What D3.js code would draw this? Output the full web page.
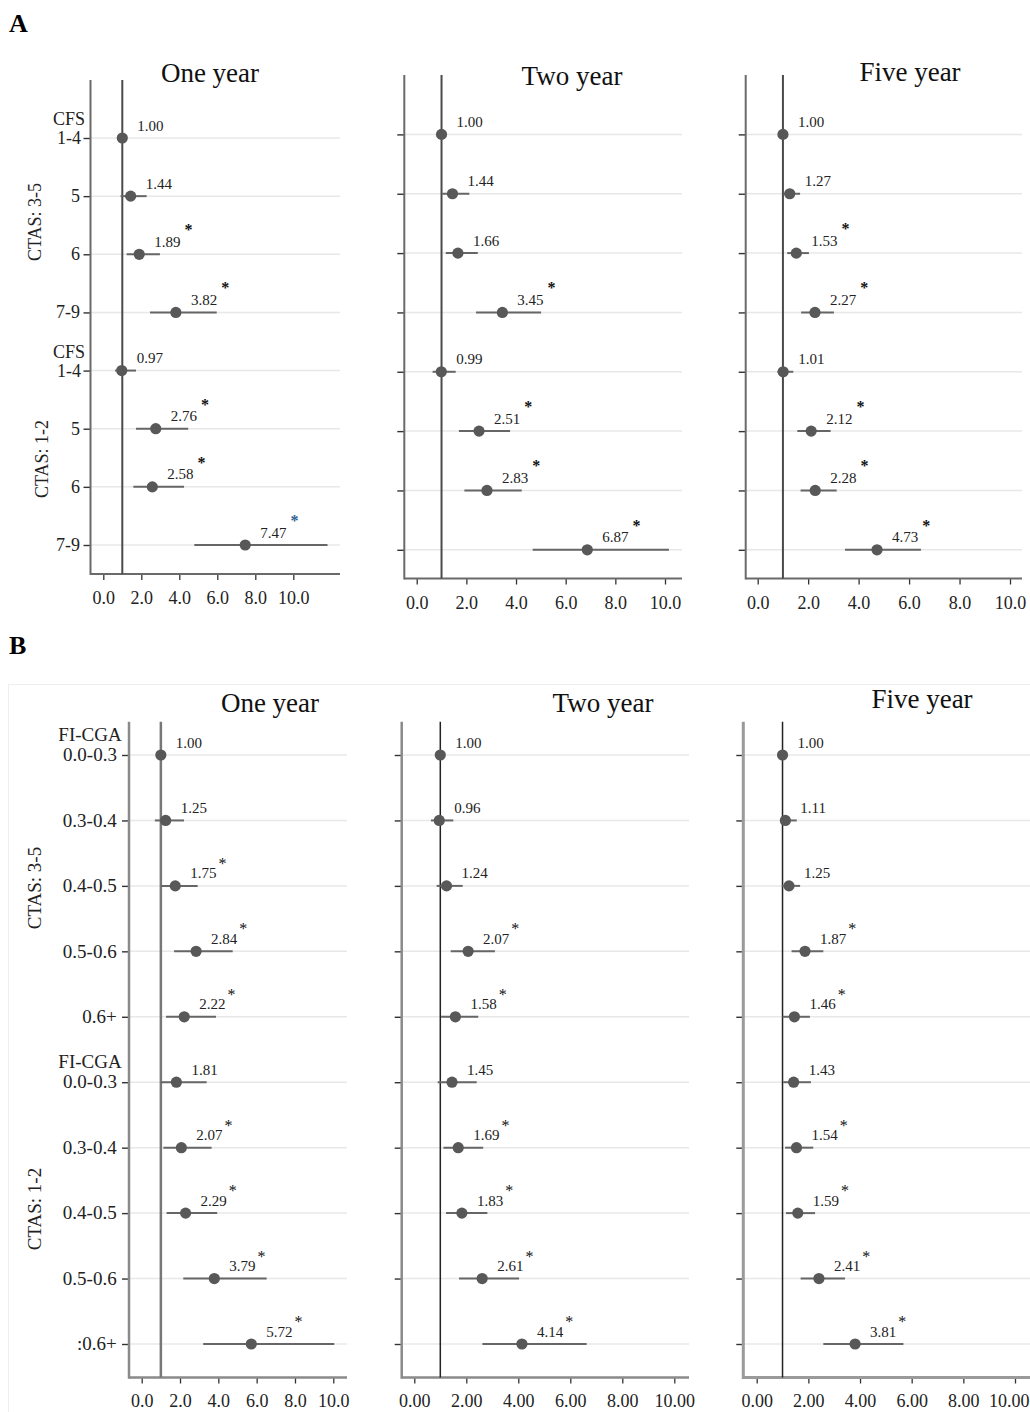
<!DOCTYPE html>
<html><head><meta charset="utf-8">
<script src="https://cdn.jsdelivr.net/npm/d3@7"></script>
<style>
body{margin:0;background:#fff}
svg{display:block}
text{font-family:"Liberation Serif","Times New Roman",serif}
</style>
</head><body>
<svg id="chart" width="1030" height="1412"></svg>
<script>
// ---------------- DATA ----------------
const yearTitles = ["One year", "Two year", "Five year"];
const groupLabels = ["CTAS: 3-5", "CTAS: 1-2"];
const xTickValues = [0, 2, 4, 6, 8, 10];

// Panel A : CFS
const cfsCategories = ["CFS|1-4", "5", "6", "7-9", "CFS|1-4", "5", "6", "7-9"];
const cfsOneYearOR   = [1.00, 1.44, 1.89, 3.82, 0.97, 2.76, 2.58, 7.47];
const cfsOneYearLow  = [1.00, 0.91, 1.23, 2.46, 0.62, 1.72, 1.58, 4.79];
const cfsOneYearHigh = [1.00, 2.28, 2.98, 5.97, 1.72, 4.47, 4.25, 11.80];
const cfsOneYearSig  = [0, 0, 1, 1, 0, 1, 1, 1];

const cfsTwoYearOR   = [1.00, 1.44, 1.66, 3.45, 0.99, 2.51, 2.83, 6.87];
const cfsTwoYearLow  = [1.00, 1.03, 1.17, 2.39, 0.64, 1.70, 1.92, 4.67];
const cfsTwoYearHigh = [1.00, 2.12, 2.46, 5.01, 1.57, 3.76, 4.23, 10.16];
const cfsTwoYearSig  = [0, 0, 0, 1, 0, 1, 1, 1];

const cfsFiveYearOR   = [1.00, 1.27, 1.53, 2.27, 1.01, 2.12, 2.28, 4.73];
const cfsFiveYearLow  = [1.00, 1.04, 1.17, 1.72, 0.78, 1.57, 1.70, 3.46];
const cfsFiveYearHigh = [1.00, 1.68, 2.03, 3.02, 1.41, 2.89, 3.13, 6.47];
const cfsFiveYearSig  = [0, 0, 1, 1, 0, 1, 1, 1];

// Panel B : FI-CGA
const fiCategories = ["FI-CGA|0.0-0.3", "0.3-0.4", "0.4-0.5", "0.5-0.6", "0.6+",
                      "FI-CGA|0.0-0.3", "0.3-0.4", "0.4-0.5", "0.5-0.6", ":0.6+"];
const fiOneYearOR   = [1.00, 1.25, 1.75, 2.84, 2.22, 1.81, 2.07, 2.29, 3.79, 5.72];
const fiOneYearLow  = [1.00, 0.69, 1.00, 1.69, 1.27, 1.00, 1.13, 1.30, 2.17, 3.21];
const fiOneYearHigh = [1.00, 2.21, 2.92, 4.75, 3.88, 3.39, 3.65, 3.94, 6.52, 10.05];
const fiOneYearSig  = [0, 0, 1, 1, 1, 0, 1, 1, 1, 1];

const fiTwoYearOR   = [1.00, 0.96, 1.24, 2.07, 1.58, 1.45, 1.69, 1.83, 2.61, 4.14];
const fiTwoYearLow  = [1.00, 0.64, 0.86, 1.40, 1.03, 0.90, 1.12, 1.22, 1.72, 2.62];
const fiTwoYearHigh = [1.00, 1.50, 1.86, 3.10, 2.46, 2.40, 2.65, 2.81, 4.03, 6.63];
const fiTwoYearSig  = [0, 0, 0, 1, 1, 0, 1, 1, 1, 1];

const fiFiveYearOR   = [1.00, 1.11, 1.25, 1.87, 1.46, 1.43, 1.54, 1.59, 2.41, 3.81];
const fiFiveYearLow  = [1.00, 0.94, 0.97, 1.35, 1.00, 1.03, 1.10, 1.13, 1.70, 2.58];
const fiFiveYearHigh = [1.00, 1.55, 1.68, 2.58, 2.06, 2.10, 2.19, 2.26, 3.42, 5.68];
const fiFiveYearSig  = [0, 0, 0, 1, 1, 0, 1, 1, 1, 1];

// ---------------- DRAWING ----------------
const W = 1030;
const svg = d3.select("#chart");
svg.append("rect").attr("width", W).attr("height", 1412).attr("fill", "#fff");

svg.append("text").attr("x", 9).attr("y", 32).attr("font-size", 26).attr("font-weight", "bold").attr("fill", "#000").text("A");
svg.append("text").attr("x", 9).attr("y", 654).attr("font-size", 26).attr("font-weight", "bold").attr("fill", "#000").text("B");

svg.append("rect").attr("x", 8.5).attr("y", 684.5).attr("width", 1040).attr("height", 760)
  .attr("fill", "none").attr("stroke", "#eeeeee").attr("stroke-width", 1);

function drawForest(c) {
  const g = svg.append("g");
  const x = d3.scaleLinear().domain([0, 10]).range(c.xRange);
  const idx = d3.range(c.or.length);
  const y = d3.scalePoint().domain(idx).range(c.rowRange);

  g.append("text").attr("x", c.titleX).attr("y", c.titleBase).attr("text-anchor", "middle")
    .attr("font-size", 27).attr("fill", "#111").text(c.title);

  g.selectAll("line.grid").data(idx).join("line").attr("class", "grid")
    .attr("x1", c.axisX).attr("x2", c.right)
    .attr("y1", i => y(i)).attr("y2", i => y(i))
    .attr("stroke", "#e8e8e8").attr("stroke-width", 1.5);

  const ya = g.append("g").attr("transform", `translate(${c.axisX},0)`)
    .call(d3.axisLeft(y).tickSize(7).tickSizeOuter(0).tickFormat(""));
  ya.select(".domain").remove();
  ya.selectAll(".tick line").attr("stroke", "#333").attr("stroke-width", 1.4);

  const xa = g.append("g").attr("transform", `translate(0,${c.base})`)
    .call(d3.axisBottom(x).tickValues(xTickValues).tickFormat(d3.format(c.fmt)).tickSize(6).tickSizeOuter(0));
  xa.select(".domain").remove();
  xa.selectAll(".tick line").attr("stroke", "#333").attr("stroke-width", 1.3);
  xa.selectAll(".tick text").attr("y", c.tickLabelBase - c.base).attr("dy", null)
    .attr("font-size", 18).attr("fill", "#222")
    .style("font-family", '"Liberation Serif","Times New Roman",serif');
  // keep labels inside the page
  xa.selectAll(".tick").each(function(d) {
    const t = d3.select(this).select("text");
    const w = t.node().getComputedTextLength();
    const over = x(d) + w / 2 - (W - 1);
    if (over > 0) t.attr("x", -over);
  });

  g.append("line").attr("x1", c.axisX).attr("x2", c.right).attr("y1", c.base).attr("y2", c.base)
    .attr("stroke", c.axisColor).attr("stroke-width", c.axisWidth);
  g.append("line").attr("x1", c.axisX).attr("x2", c.axisX).attr("y1", c.top).attr("y2", c.base + c.axisWidth / 2)
    .attr("stroke", c.axisColor).attr("stroke-width", c.axisWidth);

  g.append("line").attr("x1", x(1)).attr("x2", x(1)).attr("y1", c.top).attr("y2", c.base)
    .attr("stroke", c.refColor).attr("stroke-width", c.refWidth);

  g.selectAll("line.ci").data(idx).join("line").attr("class", "ci")
    .attr("x1", i => x(c.low[i])).attr("x2", i => x(c.high[i]))
    .attr("y1", i => y(i)).attr("y2", i => y(i))
    .attr("stroke", "#666").attr("stroke-width", 2);

  g.selectAll("circle.pt").data(idx).join("circle").attr("class", "pt")
    .attr("cx", i => x(c.or[i])).attr("cy", i => y(i)).attr("r", 5.6)
    .attr("fill", "#585858");

  idx.forEach(i => {
    const lx = x(c.or[i]) + 15;
    const t = g.append("text").attr("x", lx).attr("y", y(i) - 7.5)
      .attr("font-size", 15).attr("fill", "#222").text(d3.format(".2f")(c.or[i]));
    if (c.sig[i]) {
      const w = t.node().getComputedTextLength();
      g.append("text").attr("x", lx + w + c.starGap).attr("y", y(i) - c.starRise)
        .attr("font-size", c.starSize).attr("font-weight", c.starWeight)
        .attr("fill", (c.starColors && c.starColors[i]) || "#111").text("*");
    }
  });

  if (c.categories) {
    c.categories.forEach((lab, i) => {
      const lines = lab.split("|");
      if (lines.length === 1) {
        g.append("text").attr("x", c.singleRight).attr("y", y(i) + 0.33 * c.labelSize)
          .attr("text-anchor", "end").attr("font-size", c.labelSize).attr("fill", "#222").text(lab);
      } else {
        const ts = lines.map((ln, k) => g.append("text")
          .attr("y", y(i) - (lines.length - 1 - k) * c.lineGap + 0.33 * c.labelSize)
          .attr("text-anchor", "middle").attr("font-size", c.labelSize).attr("fill", "#222").text(ln));
        const maxW = d3.max(ts, t => t.node().getComputedTextLength());
        const cx = c.singleRight + 5 - maxW / 2;
        ts.forEach(t => t.attr("x", cx));
      }
    });
    c.groups.forEach(gr => {
      g.append("text").attr("transform", `translate(${gr.x},${gr.y}) rotate(-90)`)
        .attr("text-anchor", "middle").attr("font-size", c.labelSize).attr("fill", "#222").text(gr.text);
    });
  }
}

const commonA = {fmt: ".1f", axisColor: "#6a6a6a", axisWidth: 2, refColor: "#4a4a4a", refWidth: 2,
  starGap: 4, starRise: 19, starSize: 16, starWeight: "bold", labelSize: 18, lineGap: 18.7, singleRight: 80};
const commonB = {axisColor: "#8a8a8a", axisWidth: 2.5, starGap: 2, starRise: 17, starSize: 16, starWeight: "normal",
  labelSize: 19, lineGap: 20, singleRight: 116.7, top: 721.7, base: 1377.5, rowRange: [755, 1344], tickLabelBase: 1407};

drawForest(Object.assign({}, commonA, {
  title: yearTitles[0], titleX: 210, titleBase: 82,
  or: cfsOneYearOR, low: cfsOneYearLow, high: cfsOneYearHigh, sig: cfsOneYearSig,
  starColors: [null, null, null, null, null, null, null, "#2f5f8f"],
  axisX: 90.5, top: 80, base: 574, right: 340, xRange: [103.3, 293.3], rowRange: [138, 545], tickLabelBase: 604,
  categories: cfsCategories,
  groups: [{text: groupLabels[0], x: 41, y: 222}, {text: groupLabels[1], x: 48, y: 459}]
}));
drawForest(Object.assign({}, commonA, {
  title: yearTitles[1], titleX: 572, titleBase: 85,
  or: cfsTwoYearOR, low: cfsTwoYearLow, high: cfsTwoYearHigh, sig: cfsTwoYearSig,
  axisX: 404.3, top: 75, base: 578.5, right: 682, xRange: [416.7, 665], rowRange: [134.4, 549.8], tickLabelBase: 609
}));
drawForest(Object.assign({}, commonA, {
  title: yearTitles[2], titleX: 910, titleBase: 81,
  or: cfsFiveYearOR, low: cfsFiveYearLow, high: cfsFiveYearHigh, sig: cfsFiveYearSig,
  axisX: 745.7, top: 75, base: 578.5, right: 1022, xRange: [757.7, 1010], rowRange: [134.4, 549.8], tickLabelBase: 609
}));

drawForest(Object.assign({}, commonB, {
  title: yearTitles[0], titleX: 270, titleBase: 712, fmt: ".1f",
  or: fiOneYearOR, low: fiOneYearLow, high: fiOneYearHigh, sig: fiOneYearSig,
  axisX: 129, right: 347, xRange: [141.7, 333.3], refColor: "#777", refWidth: 2.5,
  categories: fiCategories,
  groups: [{text: groupLabels[0], x: 41, y: 888}, {text: groupLabels[1], x: 41, y: 1209}]
}));
drawForest(Object.assign({}, commonB, {
  title: yearTitles[1], titleX: 603, titleBase: 712, fmt: ".2f",
  or: fiTwoYearOR, low: fiTwoYearLow, high: fiTwoYearHigh, sig: fiTwoYearSig,
  axisX: 401.7, right: 689, xRange: [414.3, 674.3], refColor: "#222", refWidth: 1.5
}));
drawForest(Object.assign({}, commonB, {
  title: yearTitles[2], titleX: 922, titleBase: 708, fmt: ".2f",
  or: fiFiveYearOR, low: fiFiveYearLow, high: fiFiveYearHigh, sig: fiFiveYearSig,
  axisX: 743.3, right: 1030, xRange: [756.7, 1015], refColor: "#222", refWidth: 1.5, axisColor: "#9a9a9a", axisWidth: 3
}));
</script>
</body></html>
